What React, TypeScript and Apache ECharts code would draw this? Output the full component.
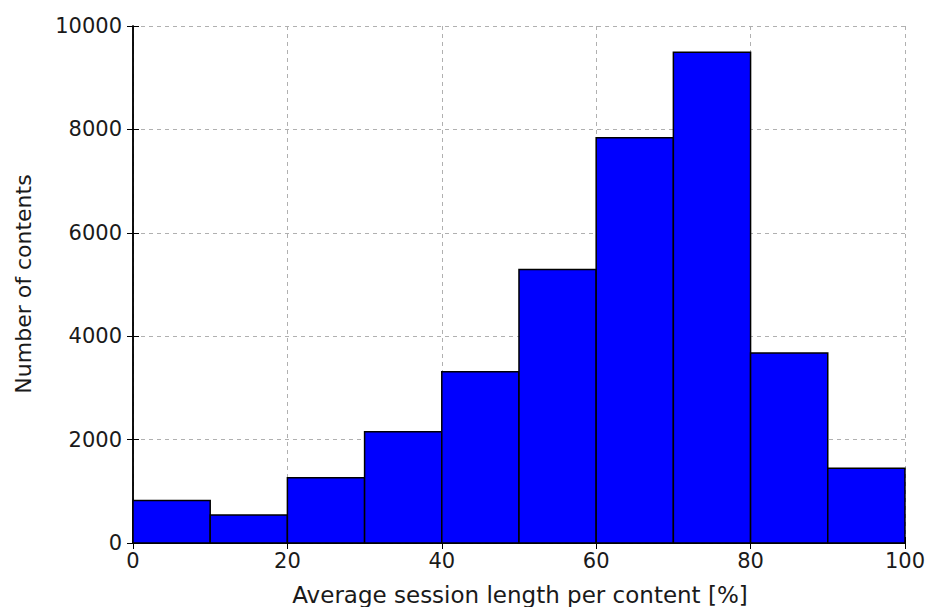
import React, { useEffect, useRef } from "react";
import * as echarts from "echarts";

const binStarts = [0, 10, 20, 30, 40, 50, 60, 70, 80, 90];
const binWidth = 10;
const counts = [820, 540, 1260, 2150, 3310, 5290, 7840, 9490, 3675, 1445];
const xTicks = [0, 20, 40, 60, 80, 100];
const yTicks = [0, 2000, 4000, 6000, 8000, 10000];
const xTitle = "Average session length per content [%]";
const yTitle = "Number of contents";

const FONT = "DejaVu Sans";
const TXT = "#1a1a1a";

export default function App() {
  const ref = useRef<HTMLDivElement>(null);
  useEffect(() => {
    if (!ref.current) return;
    const chart = echarts.init(ref.current, null, { renderer: "svg" });
    const data = binStarts.map((s, i) => [s, s + binWidth, counts[i]]);
    const axisLine = { show: true, lineStyle: { color: "#000", width: 1.5 } };
    const tick = { show: true, inside: true, length: 6, lineStyle: { color: "#000", width: 1 } };
    const grid = { show: true, lineStyle: { color: "#b0b0b0", type: [4, 4] as any, width: 1 } };
    const label = { color: TXT, fontFamily: FONT, fontSize: 21, formatter: (v: number) => String(v) };
    chart.setOption({
      animation: false,
      backgroundColor: "#fff",
      grid: { left: 133, right: 21, top: 26, bottom: 64, containLabel: false },
      xAxis: [
        {
          type: "value",
          min: xTicks[0],
          max: xTicks[xTicks.length - 1],
          interval: 20,
          position: "bottom",
          axisLine,
          axisTick: tick,
          splitLine: grid,
          axisLabel: { ...label, margin: 7 },
        },
        {
          type: "value",
          min: xTicks[0],
          max: xTicks[xTicks.length - 1],
          interval: 20,
          position: "top",
          axisLine,
          axisTick: tick,
          splitLine: { show: false },
          axisLabel: { show: false },
        },
      ],
      yAxis: [
        {
          type: "value",
          min: yTicks[0],
          max: yTicks[yTicks.length - 1],
          interval: 2000,
          position: "left",
          axisLine,
          axisTick: tick,
          splitLine: grid,
          axisLabel: { ...label, margin: 11 },
        },
        {
          type: "value",
          min: yTicks[0],
          max: yTicks[yTicks.length - 1],
          interval: 2000,
          position: "right",
          axisLine,
          axisTick: tick,
          splitLine: { show: false },
          axisLabel: { show: false },
        },
      ],
      series: [
        {
          type: "custom",
          xAxisIndex: 0,
          yAxisIndex: 0,
          z: 3,
          data,
          renderItem: (params: any, api: any) => {
            const p0 = api.coord([api.value(0), api.value(2)]);
            const p1 = api.coord([api.value(1), 0]);
            return {
              type: "rect",
              shape: { x: p0[0], y: p0[1], width: p1[0] - p0[0], height: p1[1] - p0[1] },
              style: { fill: "#0000ff", stroke: "#000", lineWidth: 1.5 },
            };
          },
        },
      ],
      graphic: [
        {
          type: "text",
          x: 520,
          y: 595,
          style: {
            text: xTitle,
            fill: TXT,
            font: `23px "${FONT}"`,
            align: "center",
            verticalAlign: "middle",
          },
        },
        {
          type: "text",
          x: 23,
          y: 284,
          rotation: Math.PI / 2,
          style: {
            text: yTitle,
            fill: TXT,
            font: `22px "${FONT}"`,
            align: "center",
            verticalAlign: "middle",
          },
        },
      ],
    });
    return () => chart.dispose();
  }, []);
  return <div ref={ref} style={{ width: 928, height: 607, position: "absolute", left: 0, top: 0 }} />;
}
